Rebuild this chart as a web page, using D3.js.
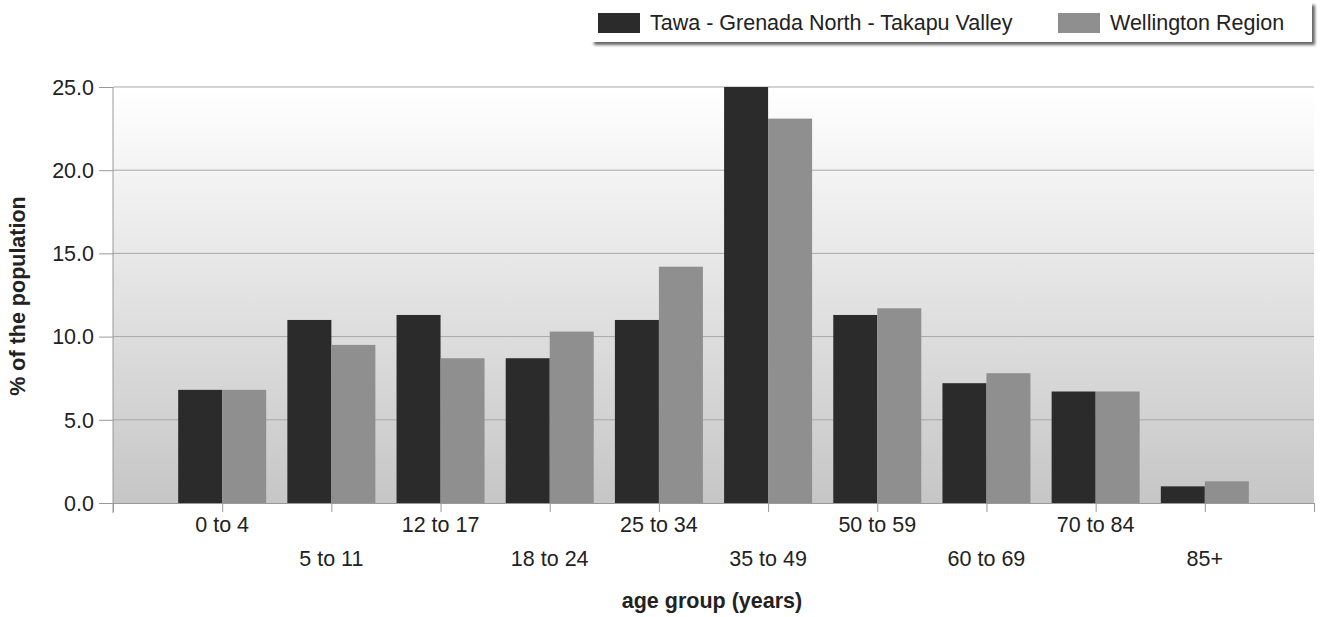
<!DOCTYPE html>
<html>
<head>
<meta charset="utf-8">
<script src="https://cdn.jsdelivr.net/npm/d3@7.9.0/dist/d3.min.js"></script>
<style>
  body { margin: 0; background: #fff; }
  text { font-family: "Liberation Sans", Arial, sans-serif; }
</style>
</head>
<body>
<div id="chart"></div>
<script>
const categories = ["0 to 4", "5 to 11", "12 to 17", "18 to 24", "25 to 34",
  "35 to 49", "50 to 59", "60 to 69", "70 to 84", "85+"];
const seriesNames = ["Tawa - Grenada North - Takapu Valley", "Wellington Region"];
const tawa = [6.8, 11.0, 11.3, 8.7, 11.0, 25.0, 11.3, 7.2, 6.7, 1.0];
const wellington = [6.8, 9.5, 8.7, 10.3, 14.2, 23.1, 11.7, 7.8, 6.7, 1.3];
const yTicks = [0, 5, 10, 15, 20, 25];
const colors = ["#2b2b2b", "#8f8f8f"];

const width = 1324, height = 617;
const plot = { left: 113, right: 1314, top: 87, bottom: 503 };
const fs = 21.5;

const svg = d3.select("#chart").append("svg")
  .attr("width", width).attr("height", height);

const defs = svg.append("defs");
const grad = defs.append("linearGradient").attr("id", "bg")
  .attr("x1", 0).attr("y1", 0).attr("x2", 0).attr("y2", 1);
grad.append("stop").attr("offset", "0%").attr("stop-color", "#ffffff");
grad.append("stop").attr("offset", "100%").attr("stop-color", "#c6c6c6");

const shadow = defs.append("filter").attr("id", "shadow")
  .attr("x", "-5%").attr("y", "-20%").attr("width", "110%").attr("height", "160%");
shadow.append("feDropShadow").attr("dx", 3).attr("dy", 3)
  .attr("stdDeviation", 1.5).attr("flood-color", "#555").attr("flood-opacity", 0.9);

// x: 11 slots, categories sit on ticks 1..10
const x = d3.scaleLinear().domain([0, 11]).range([plot.left, plot.right]);
const y = d3.scaleLinear().domain([0, 25]).range([plot.bottom, plot.top]);
const barW = (x(1) - x(0)) * 0.403;

svg.append("rect")
  .attr("x", plot.left).attr("y", plot.top)
  .attr("width", plot.right - plot.left).attr("height", plot.bottom - plot.top)
  .attr("fill", "url(#bg)");

// gridlines
svg.append("g")
  .selectAll("line").data(yTicks.filter(d => d > 0)).join("line")
  .attr("x1", plot.left).attr("x2", plot.right)
  .attr("y1", d => y(d)).attr("y2", d => y(d))
  .attr("stroke", "#a8a8a8").attr("stroke-width", 1);

// bars
const series = [tawa, wellington];
series.forEach((vals, s) => {
  svg.append("g").selectAll("rect").data(vals).join("rect")
    .attr("x", (d, i) => x(i + 1) + (s === 0 ? -barW : 0))
    .attr("y", d => y(d))
    .attr("width", barW)
    .attr("height", d => y(0) - y(d))
    .attr("fill", colors[s]);
});

// y axis
const yAxis = svg.append("g").attr("transform", `translate(${plot.left},0)`)
  .call(d3.axisLeft(y).tickValues(yTicks).tickFormat(d3.format(".1f"))
    .tickSize(14).tickSizeOuter(0).tickPadding(5));
yAxis.select(".domain").attr("stroke", "#999").attr("d", `M0,${plot.top}V${plot.bottom + 10}`);
yAxis.selectAll(".tick line").attr("stroke", "#999");
yAxis.selectAll("text").attr("font-size", fs).attr("fill", "#222").attr("dy", "0.34em");

// x axis
const xAxis = svg.append("g").attr("transform", `translate(0,${plot.bottom})`)
  .call(d3.axisBottom(x).tickValues(d3.range(0, 12)).tickFormat("")
    .tickSize(9).tickSizeOuter(0));
xAxis.select(".domain").attr("stroke", "#999");
xAxis.selectAll(".tick line").attr("stroke", "#999");

svg.append("g").selectAll("text").data(categories).join("text")
  .attr("x", (d, i) => x(i + 1))
  .attr("y", (d, i) => i % 2 === 0 ? 532 : 566)
  .attr("text-anchor", "middle")
  .attr("font-size", fs).attr("fill", "#222")
  .text(d => d);

// axis titles
svg.append("text")
  .attr("x", 712).attr("y", 608)
  .attr("text-anchor", "middle").attr("font-size", fs).attr("font-weight", "bold")
  .attr("fill", "#222").text("age group (years)");

svg.append("text")
  .attr("transform", "translate(25,296) rotate(-90)")
  .attr("text-anchor", "middle").attr("font-size", fs).attr("font-weight", "bold")
  .attr("fill", "#222").text("% of the population");

// legend
const legend = svg.append("g");
legend.append("rect")
  .attr("x", 591).attr("y", 2).attr("width", 721).attr("height", 40)
  .attr("fill", "#fff").attr("filter", "url(#shadow)");
const legendX = [598, 1058];
seriesNames.forEach((name, s) => {
  legend.append("rect")
    .attr("x", legendX[s]).attr("y", 13).attr("width", 42).attr("height", 20)
    .attr("fill", colors[s]);
  legend.append("text")
    .attr("x", legendX[s] + 52).attr("y", 30)
    .attr("font-size", fs).attr("fill", "#222").text(name);
});
</script>
</body>
</html>
